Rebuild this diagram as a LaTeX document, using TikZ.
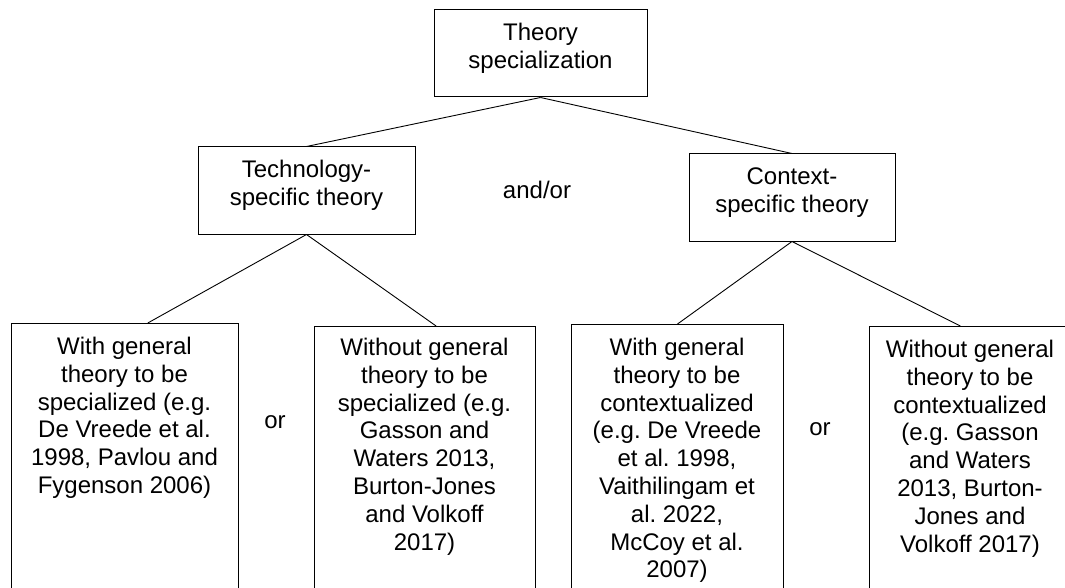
\documentclass[tikz,border=0pt]{standalone}
\usepackage{fontspec}
\setmainfont{Liberation Sans}
\usetikzlibrary{calc}
\newcommand{\lowpad}{\rule[-15pt]{0pt}{0pt}}
\begin{document}
\frenchspacing
\begin{tikzpicture}[x=1pt,y=-1pt,
  box/.style={draw=black, line width=1pt, inner sep=0pt},
  txt/.style={align=center, inner sep=0pt, font=\fontsize{24}{27.8}\selectfont},
  conn/.style={draw=black, line width=0.9pt}]
\useasboundingbox (0,0) rectangle (1065,588);
\clip (0,0) rectangle (1065,588);
% upper boxes
\node[box, txt, minimum width=213, minimum height=87] (top) at (540.5,53.5) {Theory\\specialization\lowpad};
\node[box, txt, minimum width=217, minimum height=87] (tech) at (306.5,190.5) {Technology-\\specific theory\lowpad};
\node[box, txt, minimum width=206, minimum height=87] (ctx) at (792,197.5) {Context-\\specific theory\lowpad};
\node[txt] (andor) at (537,190) {and/or};
% lower boxes (open below the picture edge)
\node[box, minimum width=227, minimum height=400, anchor=north west] (b1) at (11,323) {};
\node[box, minimum width=221, minimum height=400, anchor=north west] (b2) at (314,326) {};
\node[box, minimum width=212, minimum height=400, anchor=north west] (b3) at (571,324) {};
\node[box, minimum width=202, minimum height=400, anchor=north west] (b4) at (869,326) {};
\node[txt, anchor=north] (b1t) at (124.5,337) {With general\\theory to be\\specialized (e.g.\\De Vreede et al.\\1998, Pavlou and\\Fygenson 2006)};
\node[txt, anchor=north] (b2t) at (424.5,338) {Without general\\theory to be\\specialized (e.g.\\Gasson and\\Waters 2013,\\Burton-Jones\\and Volkoff\\2017)};
\node[txt, anchor=north] (b3t) at (677,338) {With general\\theory to be\\contextualized\\(e.g. De Vreede\\et al. 1998,\\Vaithilingam et\\al. 2022,\\McCoy et al.\\2007)};
\node[txt, anchor=north] (b4t) at (970,340) {Without general\\theory to be\\contextualized\\(e.g. Gasson\\and Waters\\2013, Burton-\\Jones and\\Volkoff 2017)};
\node[txt] (or1) at (275,422) {or};
\node[txt] (or2) at (820,429) {or};
% connectors
\draw[conn] (top.south) -- (tech.north);
\draw[conn] (top.south) -- (ctx.north);
\draw[conn] (tech.south) -- ($(b1.north west)!0.6!(b1.north east)$);
\draw[conn] (tech.south) -- ($(b2.north west)!0.55!(b2.north east)$);
\draw[conn] (ctx.south) -- (b3.north);
\draw[conn] (ctx.south) -- ($(b4.north west)!0.45!(b4.north east)$);
\end{tikzpicture}
\end{document}
